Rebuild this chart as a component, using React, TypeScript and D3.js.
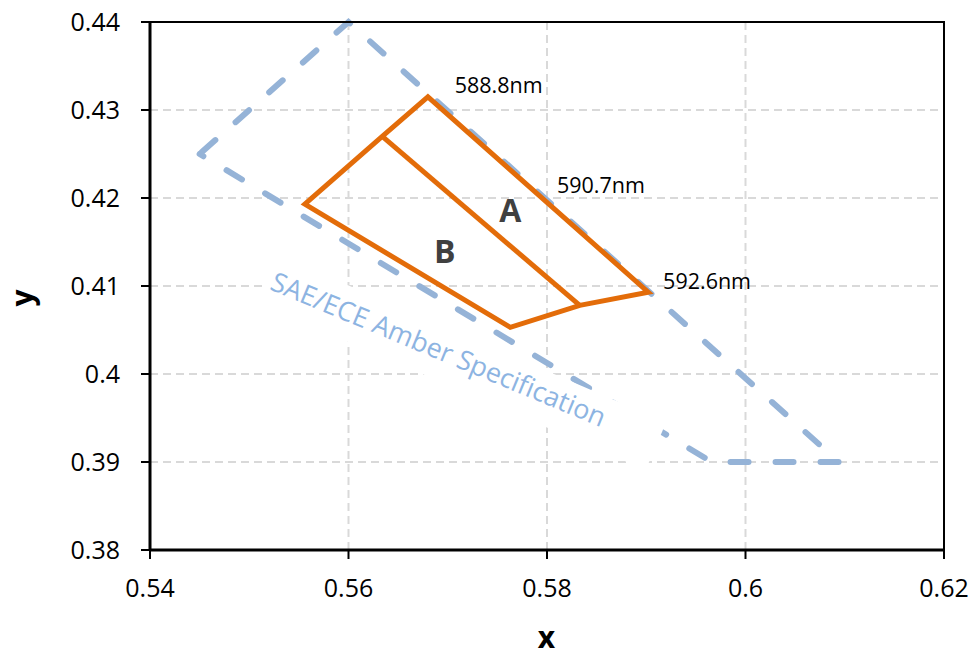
import React from 'react';
import * as d3 from 'd3';

// ---- data ----
const xTicks = [0.54, 0.56, 0.58, 0.6, 0.62];
const yTicks = [0.38, 0.39, 0.4, 0.41, 0.42, 0.43, 0.44];
const xTickLabels = ['0.54', '0.56', '0.58', '0.6', '0.62'];
const yTickLabels = ['0.38', '0.39', '0.4', '0.41', '0.42', '0.43', '0.44'];

// SAE/ECE amber specification boundary
const specX = [0.545, 0.56, 0.6094, 0.5966, 0.545];
const specY = [0.425, 0.44, 0.39, 0.39, 0.425];

// Bin outline (A + B)
const binX = [0.5634, 0.568, 0.5902, 0.5833, 0.5763, 0.5556, 0.5634];
const binY = [0.427, 0.4315, 0.4093, 0.4078, 0.4053, 0.4193, 0.427];
// Divider between A and B
const dividerX = [0.5634, 0.5833];
const dividerY = [0.427, 0.4078];

const wlLabels = ['588.8nm', '590.7nm', '592.6nm'];
const wlX = [0.5707, 0.5810, 0.5917];
const wlY = [0.4319, 0.4206, 0.4097];

const regionLabels = ['A', 'B'];
const regionX = [0.5763, 0.5697];
const regionY = [0.4173, 0.4126];

const specLabel = 'SAE/ECE Amber Specification';
const specLabelX = 0.5687;
const specLabelY = 0.4018;
const specBoxX = 0.5714;
const specBoxY = 0.4013;

export default function App() {
  const W = 976, H = 656;
  const left = 150, right = 944, top = 22, bottom = 550;
  const x = d3.scaleLinear().domain([0.54, 0.62]).range([left, right]);
  const y = d3.scaleLinear().domain([0.38, 0.44]).range([bottom, top]);

  const mk = (xs: number[], ys: number[]) =>
    d3.line<number>()
      .x((d) => x(xs[d]))
      .y((d) => y(ys[d]))(xs.map((_, i) => i)) as string;

  const specPath = mk(specX, specY);
  const binPath = mk(binX, binY);
  const divPath = mk(dividerX, dividerY);

  const angle = 23.3;
  const boxW = 423, boxH = 52;
  const font = "'Open Sans', sans-serif";

  return (
    <div style={{ position: 'absolute', left: 0, top: 0 }}>
      <svg width={W} height={H} style={{ display: 'block', background: '#fff' }}>
        {/* gridlines */}
        {xTicks.slice(1, -1).map((t) => (
          <line key={'gx' + t} x1={x(t)} x2={x(t)} y1={top} y2={bottom}
            stroke="#d9d9d9" strokeWidth={2} strokeDasharray="8 5" />
        ))}
        {yTicks.slice(1, -1).map((t) => (
          <line key={'gy' + t} x1={left} x2={right} y1={y(t)} y2={y(t)}
            stroke="#d9d9d9" strokeWidth={2} strokeDasharray="8 5" />
        ))}

        {/* spec boundary */}
        <path d={specPath} fill="none" stroke="#95b3d7" strokeWidth={6}
          strokeLinecap="round" strokeDasharray="18 27" strokeDashoffset={-3} />

        {/* spec label box */}
        <g transform={`translate(${x(specBoxX)},${y(specBoxY)}) rotate(${angle})`}>
          <rect x={-boxW / 2} y={-boxH / 2} width={boxW} height={boxH} fill="#fff" />
        </g>
        <text transform={`translate(${x(specLabelX)},${y(specLabelY)}) rotate(22.6)`}
          textAnchor="middle" fontFamily={font} fontSize={27} fill="#8db4e2"
          textLength={360} lengthAdjust="spacingAndGlyphs">{specLabel}</text>

        {/* bins */}
        <path d={binPath} fill="none" stroke="#e36c09" strokeWidth={5} strokeLinejoin="miter" />
        <path d={divPath} fill="none" stroke="#e36c09" strokeWidth={5} />

        {/* plot border */}
        <rect x={left} y={top} width={right - left} height={bottom - top} fill="none" stroke="#000" strokeWidth={2} />
        <line x1={left} x2={left} y1={top} y2={bottom + 1} stroke="#000" strokeWidth={3} />
        <line x1={left - 1} x2={right} y1={bottom} y2={bottom} stroke="#000" strokeWidth={3} />

        {/* ticks */}
        {yTicks.map((t, i) => (
          <g key={'yt' + t}>
            <line x1={left - 9} x2={left} y1={y(t)} y2={y(t)} stroke="#000" strokeWidth={2} />
            <text x={120} y={y(t)} dy="0.35em" textAnchor="end" fontFamily={font} fontSize={25} fill="#000">{yTickLabels[i]}</text>
          </g>
        ))}
        {xTicks.map((t, i) => (
          <g key={'xt' + t}>
            <line x1={x(t)} x2={x(t)} y1={bottom} y2={bottom + 9} stroke="#000" strokeWidth={2} />
            <text x={x(t)} y={597} textAnchor="middle" fontFamily={font} fontSize={25} fill="#000">{xTickLabels[i]}</text>
          </g>
        ))}

        {/* axis titles */}
        <text x={(left + right) / 2 - 0.5} y={648} textAnchor="middle" fontFamily={font} fontWeight="bold" fontSize={30} fill="#000">x</text>
        <text transform={`translate(33,${(top + bottom) / 2 + 12}) rotate(-90)`} textAnchor="middle" fontFamily={font} fontWeight="bold" fontSize={30} fill="#000">y</text>

        {/* wavelength labels */}
        {wlLabels.map((l, i) => (
          <text key={l} x={x(wlX[i])} y={y(wlY[i])} fontFamily={font} fontSize={21.5} fill="#000">{l}</text>
        ))}
        {/* region labels */}
        {regionLabels.map((l, i) => (
          <text key={l} x={x(regionX[i])} y={y(regionY[i])} textAnchor="middle" fontFamily={font} fontWeight="bold" fontSize={32} fill="#404040">{l}</text>
        ))}
      </svg>
    </div>
  );
}
